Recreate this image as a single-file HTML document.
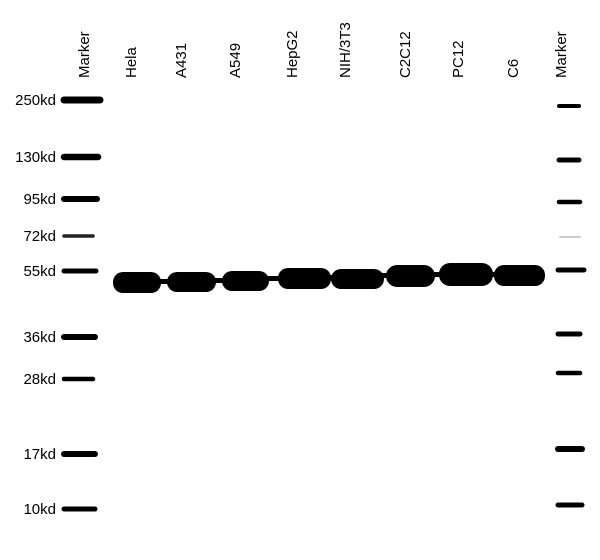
<!DOCTYPE html>
<html><head><style>body{margin:0;background:#fff}</style></head><body>
<svg width="600" height="560" xmlns="http://www.w3.org/2000/svg" style="display:block">
<rect width="600" height="560" fill="#fff"/>
<g font-family="Liberation Sans, sans-serif" font-size="15" fill="#000">
<text transform="translate(89,78) rotate(-90)">Marker</text>
<text transform="translate(136,78) rotate(-90)">Hela</text>
<text transform="translate(186,78) rotate(-90)">A431</text>
<text transform="translate(240,78) rotate(-90)">A549</text>
<text transform="translate(297,78) rotate(-90)">HepG2</text>
<text transform="translate(350,78) rotate(-90)">NIH/3T3</text>
<text transform="translate(410,78) rotate(-90)">C2C12</text>
<text transform="translate(463,78) rotate(-90)">PC12</text>
<text transform="translate(518,78) rotate(-90)">C6</text>
<text transform="translate(566,78) rotate(-90)">Marker</text>
</g>
<g font-family="Liberation Sans, sans-serif" font-size="15" fill="#000" text-anchor="end">
<text x="56" y="105">250kd</text>
<text x="56" y="162">130kd</text>
<text x="56" y="204">95kd</text>
<text x="56" y="241">72kd</text>
<text x="56" y="276">55kd</text>
<text x="56" y="342">36kd</text>
<text x="56" y="384">28kd</text>
<text x="56" y="459">17kd</text>
<text x="56" y="514">10kd</text>
</g>
<g stroke="#000" stroke-linecap="round">
<line x1="64" y1="100" x2="100" y2="100" stroke-width="7"/>
<line x1="64" y1="157" x2="98" y2="157" stroke-width="6.5"/>
<line x1="64" y1="199" x2="97" y2="199" stroke-width="6"/>
<line x1="64" y1="236" x2="93" y2="236" stroke-width="3.5" stroke="#222"/>
<line x1="64" y1="271" x2="96" y2="271" stroke-width="5"/>
<line x1="64" y1="337" x2="95" y2="337" stroke-width="6"/>
<line x1="64" y1="379" x2="93" y2="379" stroke-width="4.5"/>
<line x1="64" y1="454" x2="95" y2="454" stroke-width="6"/>
<line x1="64" y1="509" x2="95" y2="509" stroke-width="5"/>
<line x1="559" y1="106" x2="579" y2="106" stroke-width="4"/>
<line x1="559" y1="160" x2="579" y2="160" stroke-width="5"/>
<line x1="559" y1="202" x2="580" y2="202" stroke-width="4.5"/>
<line x1="560" y1="237" x2="580" y2="237" stroke-width="2" stroke="#ccc"/>
<line x1="558" y1="270" x2="584" y2="270" stroke-width="5"/>
<line x1="558" y1="334" x2="580" y2="334" stroke-width="5"/>
<line x1="558" y1="373" x2="580" y2="373" stroke-width="4.5"/>
<line x1="558" y1="449" x2="582" y2="449" stroke-width="6"/>
<line x1="558" y1="505" x2="582" y2="505" stroke-width="5"/>
</g>
<g fill="#000">
<rect x="113" y="272" width="48" height="21" rx="10"/>
<rect x="167" y="272" width="49" height="20" rx="10"/>
<rect x="222" y="271" width="47" height="20" rx="10"/>
<rect x="278" y="268" width="53" height="21" rx="10"/>
<rect x="331" y="269" width="53" height="20" rx="10"/>
<rect x="386" y="265" width="49" height="22" rx="11"/>
<rect x="439" y="263" width="54" height="23" rx="11"/>
<rect x="494" y="265" width="51" height="21" rx="10"/>
<rect x="155" y="279" width="18" height="5"/>
<rect x="210" y="278" width="18" height="5"/>
<rect x="265" y="276" width="18" height="5"/>
<rect x="326" y="275" width="10" height="5"/>
<rect x="380" y="273" width="10" height="5"/>
<rect x="430" y="272" width="14" height="5"/>
<rect x="488" y="272" width="12" height="5"/>
</g>
</svg>
</body></html>
